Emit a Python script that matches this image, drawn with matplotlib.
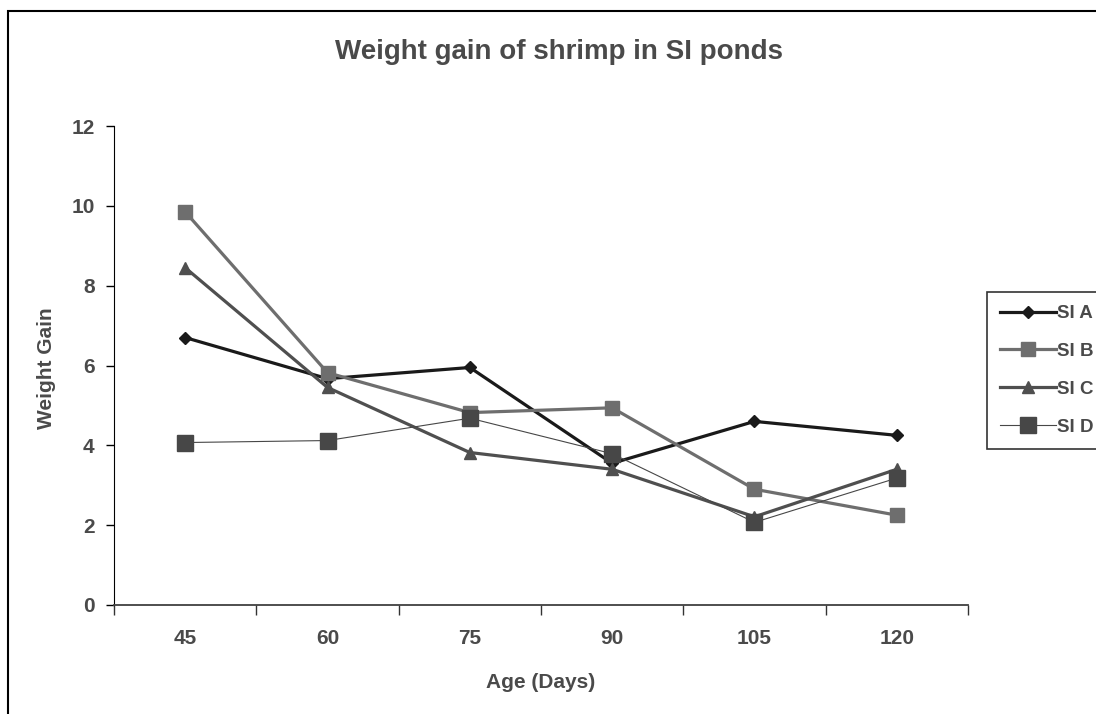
import matplotlib.pyplot as plt
from matplotlib.patches import Rectangle
import numpy as np

# data
ages = ['45', '60', '75', '90', '105', '120']
si_a = [6.70, 5.67, 5.95, 3.55, 4.60, 4.25]
si_b = [9.85, 5.82, 4.82, 4.94, 2.90, 2.25]
si_c = [8.45, 5.45, 3.82, 3.40, 2.21, 3.40]
si_d = [4.07, 4.12, 4.68, 3.79, 2.07, 3.18]

plt.rcParams.update({'font.family': 'Liberation Sans', 'font.weight': 'bold',
                     'axes.labelweight': 'bold'})
txt_col = '#4a4a4a'

fig = plt.figure(figsize=(10.96, 7.14), dpi=100)
ax = fig.add_axes([114/1096, 1-605/714, 854/1096, 479/714])

x = np.arange(len(ages)) + 0.5
ax.plot(x, si_a, color='#1a1a1a', lw=2.3, marker='D', ms=6.5, label='SI A')
ax.plot(x, si_b, color='#6e6e6e', lw=2.3, marker='s', ms=10.5, label='SI B')
ax.plot(x, si_c, color='#4f4f4f', lw=2.3, marker='^', ms=8, label='SI C')
ax.plot(x, si_d, color='#474747', lw=0.8, marker='s', ms=11, label='SI D')

ax.set_xlim(0, len(ages))
ax.set_ylim(0, 12)
ax.set_yticks(np.arange(0, 13, 2))
ax.set_xticks(np.arange(len(ages) + 1))
ax.set_xticklabels([])
ax.set_xticks(x, minor=True)
ax.set_xticklabels(ages, minor=True)
ax.tick_params(axis='x', which='minor', length=0, pad=17,
               labelsize=15, labelcolor=txt_col)
ax.tick_params(axis='x', which='major', length=7, width=1, color='#333333')
ax.tick_params(axis='y', length=6, width=1, pad=8, labelsize=15,
               labelcolor=txt_col)

for s in ['top', 'right']:
    ax.spines[s].set_visible(False)
ax.spines['left'].set_color('black')
ax.spines['bottom'].set_color('#404040')
ax.spines['bottom'].set_linewidth(1.3)

ax.set_xlabel('Age (Days)', fontsize=15, color=txt_col, va='center')
ax.xaxis.set_label_coords(0.5, -78/479)
ax.set_ylabel('Weight Gain', fontsize=15, color=txt_col, va='center')
ax.yaxis.set_label_coords(-68/854, 0.495)
fig.text(559/1096, 1-52/714, 'Weight gain of shrimp in SI ponds',
         ha='center', va='center', fontsize=20, color=txt_col)

leg = fig.legend(loc='upper left', bbox_to_anchor=(987/1096, 1-292/714),
                 frameon=True, fancybox=False, edgecolor='black',
                 fontsize=13.5, handlelength=3.0, handletextpad=0.05,
                 labelspacing=1.1, borderaxespad=0, borderpad=0.7,
                 labelcolor=txt_col)
leg.get_frame().set_linewidth(1.2)

# outer chart border, cut by the picture edge
fig.patches.append(Rectangle((8/1096, -0.1), 2, 1.1 - 11/714,
                             transform=fig.transFigure, fill=False,
                             edgecolor='black', lw=1.5))

fig.savefig('out.png', dpi=100, facecolor='white')
